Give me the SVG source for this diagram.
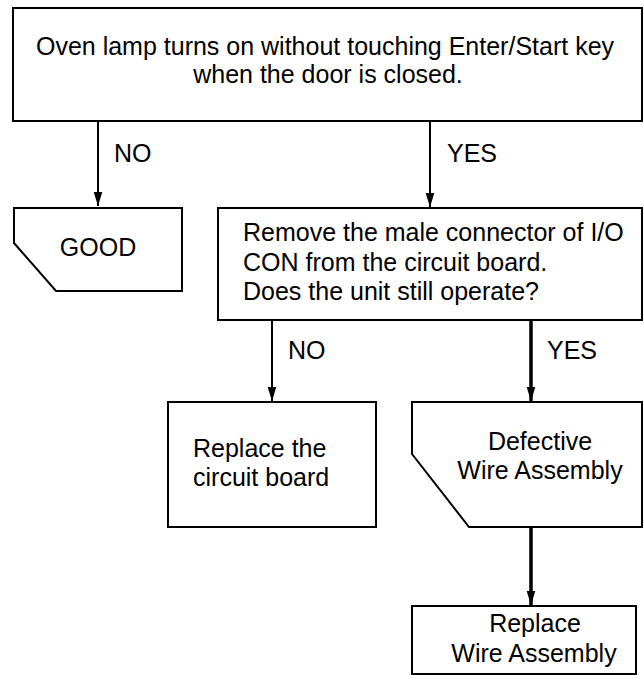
<svg xmlns="http://www.w3.org/2000/svg" width="644" height="675" viewBox="0 0 644 675">
<style>
.box{fill:#fff;stroke:#000;stroke-width:2}
.t{font-family:"Liberation Sans",Arial,Helvetica,sans-serif;font-size:25px;fill:#000}
.c{text-anchor:middle}
.ln{stroke:#000;stroke-width:2;fill:none}
.thk{stroke:#000;stroke-width:3.5;fill:none}
</style>
<defs>
<marker id="ah" markerUnits="userSpaceOnUse" markerWidth="14" markerHeight="22" refX="21" refY="6.5" viewBox="0 0 21 13" orient="auto">
<path d="M0,0 L21,6.5 L0,13 Z" fill="#000"/>
</marker>
</defs>
<rect width="644" height="675" fill="#fff"/>
<g id="connectors">
<line class="ln" x1="98" y1="122" x2="98" y2="206" marker-end="url(#ah)"/>
<line class="ln" x1="430" y1="122" x2="430" y2="207" marker-end="url(#ah)"/>
<line class="ln" x1="272" y1="320" x2="272" y2="401" marker-end="url(#ah)"/>
<line class="thk" x1="531" y1="320" x2="531" y2="401" marker-end="url(#ah)"/>
<line class="thk" x1="531" y1="527" x2="531" y2="605" marker-end="url(#ah)"/>
<text class="t" x="114" y="162">NO</text>
<text class="t" x="447" y="162">YES</text>
<text class="t" x="288" y="359">NO</text>
<text class="t" x="547" y="359">YES</text>
</g>
<g id="start">
<rect class="box" x="13" y="8" width="629" height="113"/>
<text class="t c" x="325" y="55">Oven lamp turns on without touching Enter/Start key</text>
<text class="t c" x="328" y="82.5">when the door is closed.</text>
</g>
<g id="good">
<path class="box" d="M14,208 H182 V291 H56 L14,243 Z"/>
<text class="t c" x="98" y="256">GOOD</text>
</g>
<g id="check">
<rect class="box" x="218" y="208" width="424" height="112"/>
<text class="t" x="243" y="240.5">Remove the male connector of I/O</text>
<text class="t" x="243" y="270.5">CON from the circuit board.</text>
<text class="t" x="243" y="300">Does the unit still operate?</text>
</g>
<g id="replace-board">
<rect class="box" x="168" y="402" width="208" height="125"/>
<text class="t" x="193" y="456.5">Replace the</text>
<text class="t" x="193" y="485.5">circuit board</text>
</g>
<g id="defective">
<path class="box" d="M412,402 H642 V527 H469 L412,454 Z"/>
<text class="t c" x="540" y="450">Defective</text>
<text class="t c" x="540" y="479">Wire Assembly</text>
</g>
<g id="replace-wire">
<rect class="box" x="412" y="606" width="224" height="68"/>
<text class="t c" x="535" y="631.5">Replace</text>
<text class="t c" x="534" y="661.5">Wire Assembly</text>
</g>
</svg>
